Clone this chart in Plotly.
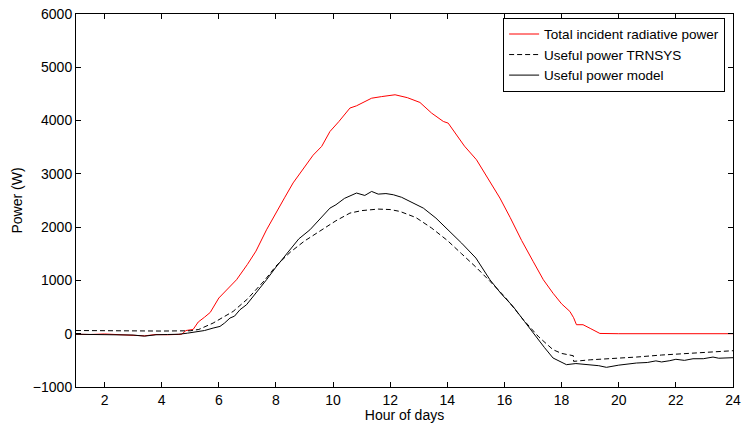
import plotly.graph_objects as go

# Total incident radiative power (red)
hours_total = [1, 1.5, 2, 2.5, 3, 3.4, 3.8, 4.2, 4.7, 4.85, 5.1, 5.28, 5.5, 5.7, 6.0, 6.3, 6.62,
               7.0, 7.3, 7.67, 8.0, 8.3, 8.6, 9.0, 9.3, 9.6, 9.89, 10.2, 10.59, 10.82, 11.1,
               11.35, 11.7, 12.17, 12.6, 13.04, 13.45, 13.7, 13.86, 14.03, 14.3, 14.6, 15.02,
               15.4, 15.84, 16.2, 16.6, 17.0, 17.36, 17.7, 18.0, 18.29, 18.42, 18.52, 18.75,
               19.0, 19.34, 20, 22, 24]
power_total = [-10, -15, -5, -20, -25, -40, -15, -20, -10, 60, 80, 220, 310, 400, 670, 840, 1013,
               1300, 1550, 1950, 2250, 2550, 2830, 3130, 3350, 3515, 3795, 3980, 4235, 4277, 4360,
               4420, 4450, 4484, 4430, 4340, 4140, 4040, 3983, 3952, 3750, 3520, 3265,
               2920, 2546, 2180, 1750, 1360, 1013, 760, 560, 418, 300, 169, 169,
               100, 5, 0, 0, 0]

# Useful power TRNSYS (dashed)
hours_trnsys = [1, 2, 3, 4, 5, 5.3, 5.8, 6.1, 6.5, 7.0, 7.6, 8.0, 8.5, 9.0, 9.72, 10.1, 10.59,
                11.0, 11.58, 12.0, 12.34, 12.9, 13.45, 14.0, 14.5, 15.0, 15.5, 16.0, 16.66,
                17.2, 17.7, 18.0, 18.41, 18.42, 19, 20, 20.62, 21.5, 22.5, 23.95, 24]
power_trnsys = [60, 55, 50, 50, 55, 80, 200, 290, 418, 650, 1000, 1270, 1530, 1740, 1983, 2120, 2264,
                2310, 2339, 2330, 2295, 2180, 1983, 1750, 1500, 1250, 980, 700, 262,
                -60, -300, -370, -413, -519, -490, -460, -438, -400, -370, -319, -319]

# Useful power model (solid black)
hours_model = [1, 1.5, 2, 2.5, 3, 3.4, 3.8, 4.2, 4.6, 4.9, 5.22, 5.5, 5.8, 6.04, 6.2, 6.39, 6.55,
               6.74, 6.97, 7.3, 7.67, 8.0, 8.4, 8.8, 9.19, 9.5, 9.89, 10.1, 10.4, 10.82, 11.11,
               11.35, 11.58, 11.85, 12.11, 12.4, 12.69, 13.16, 13.6, 14.03, 14.5, 15.0, 15.49,
               15.9, 16.3, 16.7, 17.1, 17.4, 17.7, 17.95, 18.17, 18.5, 18.99, 19.3, 19.57, 20.0,
               20.62, 21.0, 21.3, 21.5, 21.79, 22.0, 22.3, 22.6, 22.96, 23.3, 23.5, 23.95, 24]
power_model = [-10, -15, -10, -20, -25, -45, -20, -15, -10, 10, 40, 60, 106, 137, 200, 294, 330,
               450, 544, 760, 1013, 1250, 1520, 1780, 1950, 2130, 2357, 2420, 2540, 2640, 2595,
               2670, 2620, 2630, 2608, 2560, 2482, 2357, 2170, 1951, 1700, 1420, 1013,
               740, 512, 230, -60, -260, -456, -530, -581, -560, -581, -600, -631, -590,
               -550, -540, -510, -530, -506, -480, -500, -470, -469, -438, -460, -456, -450]

x_ticks = [2, 4, 6, 8, 10, 12, 14, 16, 18, 20, 22, 24]
y_ticks = [-1000, 0, 1000, 2000, 3000, 4000, 5000, 6000]

fig = go.Figure()
fig.add_trace(go.Scatter(x=hours_total, y=power_total, mode="lines",
                         name="Total incident radiative power",
                         line=dict(color="#ff0000", width=1)))
fig.add_trace(go.Scatter(x=hours_trnsys, y=power_trnsys, mode="lines",
                         name="Useful power TRNSYS",
                         line=dict(color="black", width=1, dash="5px,3px")))
fig.add_trace(go.Scatter(x=hours_model, y=power_model, mode="lines",
                         name="Useful power model",
                         line=dict(color="black", width=1)))

axis_common = dict(showgrid=False, zeroline=False, showline=True, linecolor="black",
                   linewidth=1, mirror="ticks", ticks="inside", ticklen=5,
                   tickcolor="black", tickfont=dict(size=14, color="black"))

fig.update_xaxes(range=[1, 24], tickvals=x_ticks, **axis_common,
                 title=dict(text="Hour of days", font=dict(size=14, color="black"), standoff=2))
fig.update_yaxes(range=[-1000, 6000], tickvals=y_ticks, **axis_common,
                 title=dict(text="Power (W)", font=dict(size=14, color="black"), standoff=6))

fig.update_layout(
    width=742, height=423,
    margin=dict(l=76, r=9, t=14, b=36, autoexpand=False),
    paper_bgcolor="white", plot_bgcolor="white",
    font=dict(family="Liberation Sans, Arial, sans-serif", color="black"),
    legend=dict(x=0.988, y=0.99, xanchor="right", yanchor="top",
                bordercolor="black", borderwidth=1, bgcolor="white",
                font=dict(size=13.5), tracegroupgap=0, itemwidth=30),
)

fig.write_html("out.html", config={"displayModeBar": False},
               post_script="document.body.style.margin='0';")
